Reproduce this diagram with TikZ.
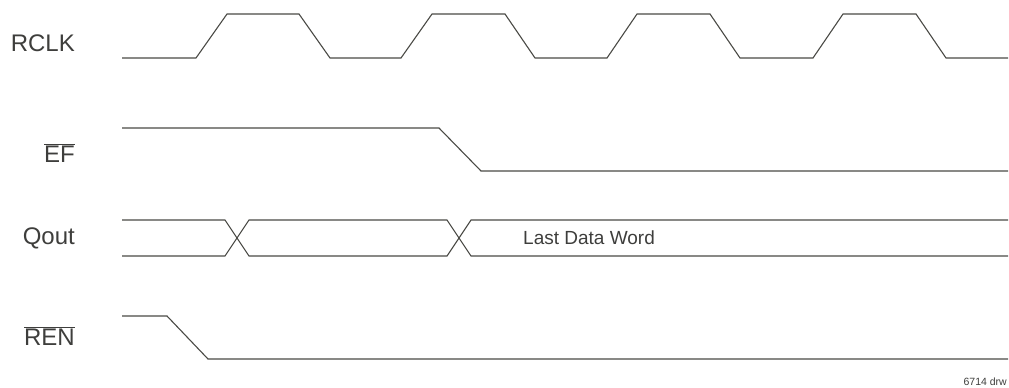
\documentclass[tikz,border=0pt]{standalone}
\usepackage{fontspec}
\setmainfont{Liberation Sans}
\usetikzlibrary{positioning}
\definecolor{wavegray}{HTML}{4A4A45}
\definecolor{textgray}{HTML}{3E3E3C}

\begin{document}
\begin{tikzpicture}[x=1pt,y=-1pt,
        wave/.style={draw=wavegray,line width=1.1pt,line join=miter},
        siglabel/.style={anchor=east,inner sep=0pt,text=textgray,font=\fontsize{24}{28}\selectfont},
        buslabel/.style={anchor=west,inner sep=0pt,text=textgray,font=\fontsize{19}{22}\selectfont}]
        \useasboundingbox (0,0) rectangle (1009,388);
        % signal names
        \node[siglabel] (rclk) at (75, 43) {RCLK};
        \node[siglabel] (ef) at (75, 153) {$\overline{\mbox{EF}}$};
        \node[siglabel] (qout) at (75, 238) {Qout};
        \node[siglabel] (ren) at (75, 336) {$\overline{\mbox{REN}}$};
        % read clock
        \draw[wave] (122,58) -- (196,58) -- (227,14) -- (299,14) -- (330,58) -- (401,58) -- (432,14) -- (505,14)
            -- (535,58) -- (607,58) -- (637,14) -- (710,14) -- (740,58) -- (813,58) -- (843,14) -- (916,14)
            -- (946,58) -- (1008,58);
        % empty flag
        \draw[wave] (122,128) -- (439,128) -- (481,171) -- (1008,171);
        % data out bus
        \draw[wave] (122,220) -- (225,220) -- (237,238) -- (249,220) -- (447,220) -- (459,238) -- (471,220) -- (1008,220);
        \draw[wave] (122,256) -- (225,256) -- (237,238) -- (249,256) -- (447,256) -- (459,238) -- (471,256) -- (1008,256);
        \node[buslabel] (lastword) at (523, 238) {Last Data Word};
        % read enable
        \draw[wave] (122,316) -- (167,316) -- (208,359) -- (1008,359);
        \node[anchor=base east,inner sep=0pt,text=textgray,font=\fontsize{10.5}{12}\selectfont] (drwno) at (1007, 385) {6714 drw};
\end{tikzpicture}
\end{document}
